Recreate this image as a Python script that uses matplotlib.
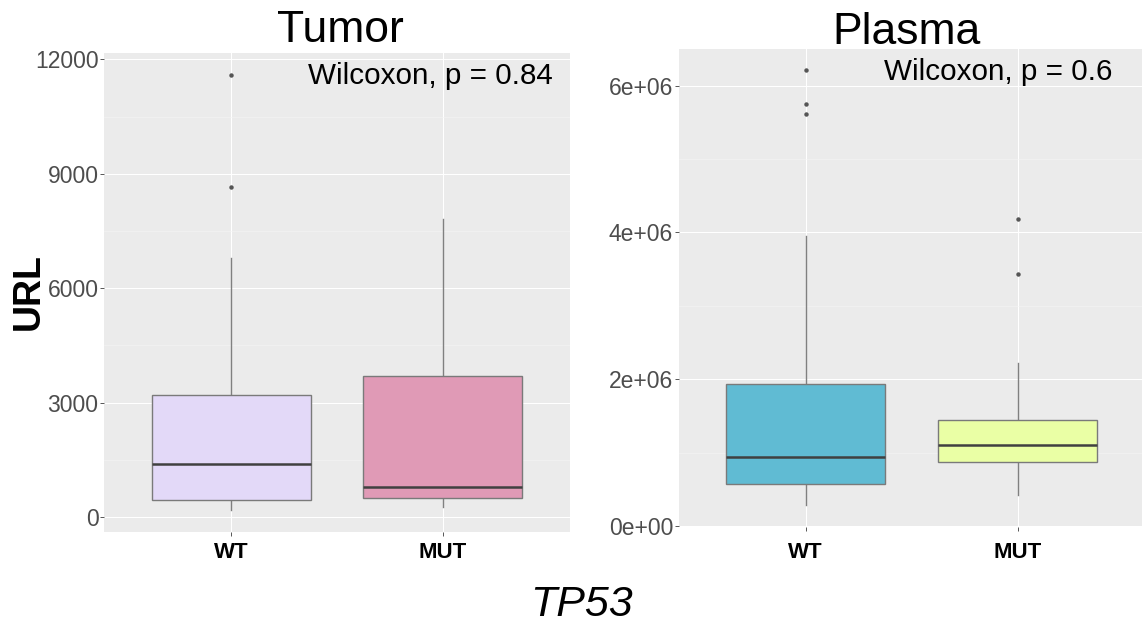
import matplotlib
matplotlib.use("Agg")
import matplotlib.pyplot as plt
from matplotlib.ticker import MultipleLocator, FuncFormatter

plt.rcParams['font.family'] = ['Liberation Sans', 'DejaVu Sans']

groups = ["WT", "MUT"]

# Tumor panel (URL)
tumor_whislo = [180, 262]
tumor_q1 = [445, 500]
tumor_med = [1390, 786]
tumor_q3 = [3196, 3694]
tumor_whishi = [6783, 7821]
tumor_fliers = [[11597, 8644], []]
tumor_colors = ["#E3D9F8", "#E09AB6"]
tumor_p = "Wilcoxon, p = 0.84"

# Plasma panel
plasma_whislo = [0.286e6, 0.430e6]
plasma_q1 = [0.575e6, 0.871e6]
plasma_med = [0.947e6, 1.106e6]
plasma_q3 = [1.940e6, 1.450e6]
plasma_whishi = [3.950e6, 2.226e6]
plasma_fliers = [[6.208e6, 5.746e6, 5.61e6], [4.177e6, 3.437e6]]
plasma_colors = ["#60BBD3", "#EAFFA5"]
plasma_p = "Wilcoxon, p = 0.6"

W, H = 1142, 628


def draw_panel(ax, whislo, q1, med, q3, whishi, fliers, colors):
    stats = []
    for i, g in enumerate(groups):
        stats.append(dict(label=g, whislo=whislo[i], q1=q1[i], med=med[i],
                          q3=q3[i], whishi=whishi[i], fliers=fliers[i]))
    bp = ax.bxp(stats, positions=[1, 2], widths=0.75, patch_artist=True,
                showcaps=False,
                boxprops=dict(edgecolor="#7a7a7a", linewidth=1.0),
                medianprops=dict(color="#404040", linewidth=1.8),
                whiskerprops=dict(color="#808080", linewidth=1.0),
                flierprops=dict(marker="o", markersize=2.2, markerfacecolor="#555555",
                                markeredgecolor="#555555"))
    for patch, c in zip(bp["boxes"], colors):
        patch.set_facecolor(c)
        patch.set_zorder(3)
    for ln in bp["medians"]:
        ln.set_zorder(4)
    ax.set_facecolor("#EBEBEB")
    for s in ax.spines.values():
        s.set_visible(False)
    ax.set_xlim(0.4, 2.6)
    ax.set_xticks([1, 2])
    ax.set_xticklabels(groups, fontsize=16, fontweight="bold", color="black")
    ax.xaxis.set_minor_locator(MultipleLocator(10))
    ax.grid(True, which="major", color="white", linewidth=0.75, zorder=0)
    ax.grid(True, which="minor", axis="y", color="#F5F5F5", linewidth=0.4, zorder=0)
    ax.set_axisbelow(True)
    ax.tick_params(axis="both", which="major", length=3, width=0.7, color="#555555")
    ax.tick_params(axis="y", which="major", labelsize=16.5, labelcolor="#4D4D4D", pad=1)
    ax.tick_params(axis="both", which="minor", length=0)


fig = plt.figure(figsize=(W / 100, H / 100), dpi=100)
fig.patch.set_facecolor("white")

ax1 = fig.add_axes([104 / W, 1 - 532 / H, 466 / W, (532 - 53) / H])
draw_panel(ax1, tumor_whislo, tumor_q1, tumor_med, tumor_q3, tumor_whishi,
           tumor_fliers, tumor_colors)
ax1.set_ylim(-393, 12166)
ax1.yaxis.set_major_locator(MultipleLocator(3000))
ax1.yaxis.set_minor_locator(MultipleLocator(1500))
ax1.tick_params(axis="x", pad=4)

ax2 = fig.add_axes([678.6 / W, 1 - 527 / H, 466 / W, (527 - 48.5) / H])
draw_panel(ax2, plasma_whislo, plasma_q1, plasma_med, plasma_q3, plasma_whishi,
           plasma_fliers, plasma_colors)
ax2.set_ylim(-0.01e6, 6.504e6)
ax2.yaxis.set_major_locator(MultipleLocator(2e6))
ax2.yaxis.set_minor_locator(MultipleLocator(1e6))
ax2.yaxis.set_major_formatter(FuncFormatter(lambda v, p: "%de+0%d" % (round(v / 1e6), 6) if v > 0 else "0e+00"))
ax2.tick_params(axis="x", pad=8)

# titles and annotations
fig.text(340 / W, 1 - 31 / H, "Tumor", fontsize=32, ha="center", va="center")
fig.text(906 / W, 1 - 32 / H, "Plasma", fontsize=32, ha="center", va="center")
fig.text(553 / W, 1 - 83.5 / H, tumor_p, fontsize=21.3, ha="right", va="baseline")
fig.text(1112 / W, 1 - 80 / H, plasma_p, fontsize=21.3, ha="right", va="baseline")
fig.text(29 / W, 1 - 292 / H, "URL", fontsize=27, fontweight="bold", rotation=90,
         ha="center", va="center")
fig.text(581 / W, 1 - 605 / H, "TP53", fontsize=31, style="italic",
         ha="center", va="center")

fig.savefig("out.png", dpi=100)
